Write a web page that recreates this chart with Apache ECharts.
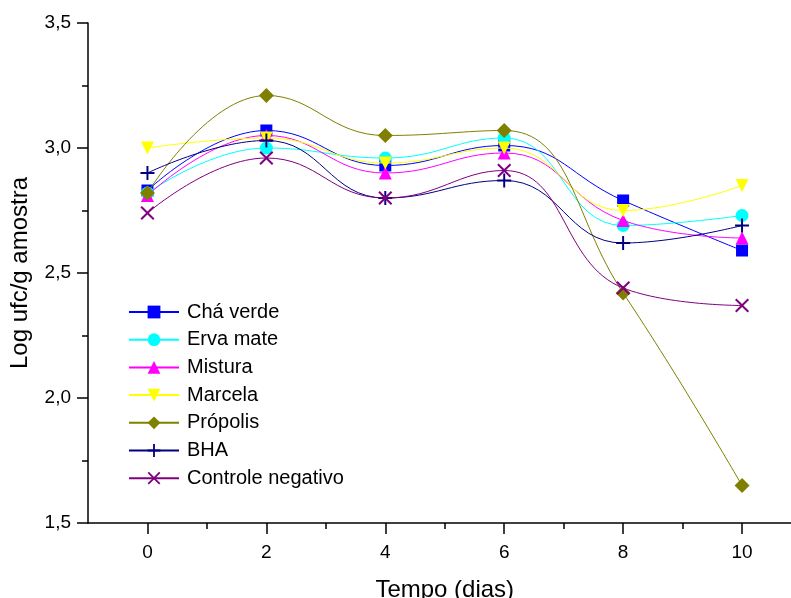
<!DOCTYPE html>
<html>
<head>
<meta charset="utf-8">
<script src="https://cdn.jsdelivr.net/npm/echarts@6/dist/echarts.min.js"></script>
<style>
html,body{margin:0;padding:0;background:#fff;}
#c{width:791px;height:598px;}
</style>
</head>
<body>
<div id="c"></div>
<script>
// ---- data ----
const days = [0, 2, 4, 6, 8, 10];
const chaVerde = [2.83, 3.07, 2.93, 3.01, 2.79, 2.59];
const ervaMate = [2.82, 3.00, 2.96, 3.04, 2.69, 2.73];
const mistura = [2.81, 3.05, 2.90, 2.98, 2.71, 2.64];
const marcela = [3.00, 3.04, 2.94, 3.00, 2.75, 2.85];
const propolis = [2.82, 3.21, 3.05, 3.07, 2.42, 1.65];
const bha = [2.90, 3.03, 2.80, 2.87, 2.62, 2.69];
const controle = [2.74, 2.96, 2.80, 2.91, 2.44, 2.37];
const seriesNames = ['Chá verde', 'Erva mate', 'Mistura', 'Marcela', 'Própolis', 'BHA', 'Controle negativo'];
const xTickLabels = [0, 2, 4, 6, 8, 10];
const xMinorTicks = [1, 3, 5, 7, 9];

const FONT = '"Liberation Sans", Arial, sans-serif';
const plusPath = 'path://M4.3,0 L5.7,0 L5.7,4.3 L10,4.3 L10,5.7 L5.7,5.7 L5.7,10 L4.3,10 L4.3,5.7 L0,5.7 L0,4.3 L4.3,4.3 Z';
const xPath = 'path://M0,1 L1,0 L5,4 L9,0 L10,1 L6,5 L10,9 L9,10 L5,6 L1,10 L0,9 L4,5 Z';
const invTri = 'path://M0,0 L10,0 L5,9 Z';

const styles = [
  {data: chaVerde, color: '#0000FF', symbol: 'rect', size: 12},
  {data: ervaMate, color: '#00FFFF', symbol: 'circle', size: 13},
  {data: mistura, color: '#FF00FF', symbol: 'triangle', size: 13},
  {data: marcela, color: '#FFFF00', symbol: invTri, size: 13},
  {data: propolis, color: '#808000', symbol: 'diamond', size: 15},
  {data: bha, color: '#000080', symbol: plusPath, size: 14},
  {data: controle, color: '#800080', symbol: xPath, size: 14}
];

const series = styles.map((s, i) => ({
  name: seriesNames[i],
  type: 'line',
  xAxisIndex: 0,
  data: days.map((d, j) => [d, s.data[j]]),
  smooth: 0.45,
  symbol: s.symbol,
  symbolSize: s.size,
  showSymbol: true,
  lineStyle: {color: s.color, width: 1},
  itemStyle: {color: s.color, borderWidth: 0},
  emphasis: {disabled: true},
  animation: false,
  z: 2 + i
}));

const chart = echarts.init(document.getElementById('c'), null, {renderer: 'canvas'});
chart.setOption({
  backgroundColor: '#ffffff',
  animation: false,
  grid: {left: 88, top: 23, bottom: 75, right: -10.5, containLabel: false, outerBoundsMode: 'none'},
  legend: {
    orient: 'vertical',
    left: 128,
    top: 302,
    padding: 0,
    itemWidth: 50,
    itemHeight: 16,
    itemGap: 7.7,
    data: seriesNames,
    textStyle: {fontFamily: FONT, fontSize: 20, color: '#000', padding: [0, 0, 0, 3]},
    inactiveColor: '#000'
  },
  xAxis: [{
    type: 'value',
    min: -1,
    max: 11,
    position: 'bottom',
    name: 'Tempo (dias)',
    nameLocation: 'middle',
    nameGap: 55,
    nameTextStyle: {fontFamily: FONT, fontSize: 24, color: '#000'},
    axisLine: {show: true, onZero: false, lineStyle: {color: '#000', width: 1.5}},
    axisTick: {show: true, customValues: xTickLabels, length: 11, lineStyle: {color: '#000', width: 1.5}},
    axisLabel: {customValues: xTickLabels, margin: 20, fontFamily: FONT, fontSize: 19, color: '#000'},
    splitLine: {show: false}
  }, {
    type: 'value',
    min: -1,
    max: 11,
    position: 'bottom',
    axisLine: {show: false, onZero: false},
    axisTick: {show: true, customValues: xMinorTicks, length: 6, lineStyle: {color: '#000', width: 1.5}},
    axisLabel: {show: false},
    splitLine: {show: false}
  }],
  yAxis: {
    type: 'value',
    min: 1.5,
    max: 3.5,
    interval: 0.5,
    name: 'Log ufc/g amostra',
    nameLocation: 'middle',
    nameGap: 56,
    nameRotate: 90,
    nameTextStyle: {fontFamily: FONT, fontSize: 24, color: '#000'},
    axisLine: {show: true, onZero: false, lineStyle: {color: '#000', width: 1.5}},
    axisTick: {show: true, length: 11, lineStyle: {color: '#000', width: 1.5}},
    minorTick: {show: true, splitNumber: 2, length: 6, lineStyle: {color: '#000', width: 1.5}},
    axisLabel: {
      margin: 17,
      fontFamily: FONT, fontSize: 19, color: '#000',
      formatter: v => v.toFixed(1).replace('.', ',')
    },
    splitLine: {show: false},
    minorSplitLine: {show: false}
  },
  series: series
});
</script>
</body>
</html>
